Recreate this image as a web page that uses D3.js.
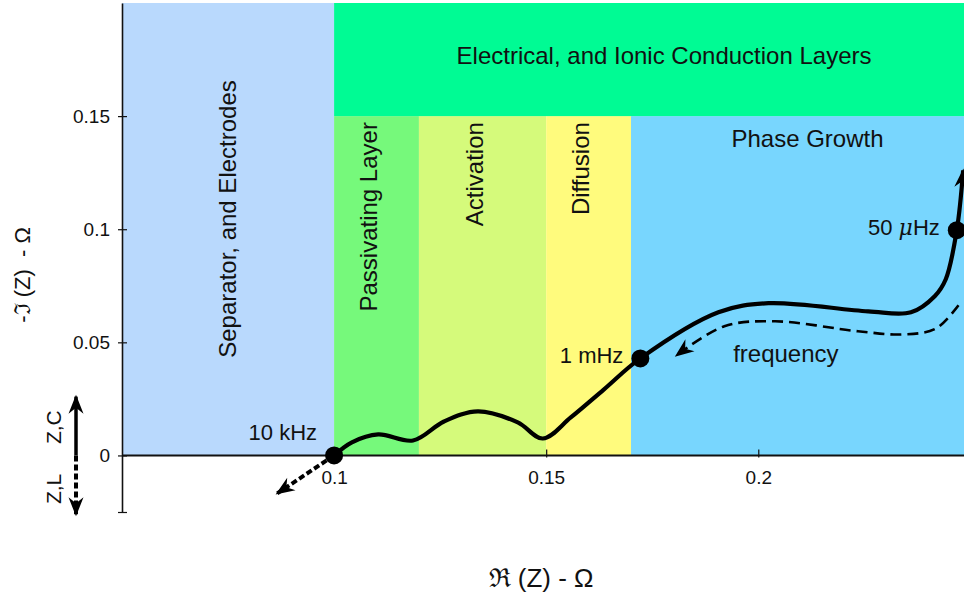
<!DOCTYPE html>
<html>
<head>
<meta charset="utf-8">
<script src="https://cdn.jsdelivr.net/npm/d3@7"></script>
<style>
  html, body { margin: 0; padding: 0; background: #ffffff; }
  svg { display: block; font-family: "Liberation Sans", Arial, Helvetica, sans-serif; }
</style>
</head>
<body>
<svg id="chart" width="964" height="597"></svg>
<script>
// Impedance regions (real-axis span and imaginary-axis span of each band)
const regionNames = ["Separator, and Electrodes", "Passivating Layer", "Activation", "Diffusion", "Phase Growth", "Electrical, and Ionic Conduction Layers"];
const regionRe0 = [0.05, 0.10, 0.12, 0.15, 0.17, 0.10];
const regionRe1 = [0.10, 0.12, 0.15, 0.17, 0.2485, 0.2485];
const regionIm0 = [0, 0, 0, 0, 0, 0.15];
const regionIm1 = [0.2, 0.15, 0.15, 0.15, 0.15, 0.2];
const regionColors = ["#b9d9fd", "#76f97b", "#d5fa7b", "#fffb7d", "#78d6fe", "#00fb94"];

// Nyquist trace: real and negative-imaginary impedance (ohm)
const traceRe = [0.100, 0.1042, 0.1104, 0.1186, 0.1259, 0.1339, 0.1433, 0.1492, 0.1558, 0.1635, 0.1722, 0.1906, 0.2024, 0.2259, 0.2360, 0.2416, 0.2442, 0.2468, 0.2483];
const traceIm = [0.000, 0.0058, 0.0093, 0.0066, 0.0150, 0.0195, 0.0146, 0.0075, 0.0168, 0.0290, 0.0429, 0.0633, 0.0673, 0.0637, 0.0633, 0.0704, 0.0779, 0.0996, 0.1260];

// Direction of decreasing frequency, drawn just below the trace
const freqRe = [0.2472, 0.2418, 0.2340, 0.2235, 0.2040, 0.1920, 0.1807];
const freqIm = [0.0664, 0.0560, 0.0535, 0.0549, 0.0593, 0.0571, 0.0442];

// High-frequency extrapolation from the 10 kHz point
const extrapRe = [0.100, 0.0866];
const extrapIm = [0.000, -0.0168];

// Labelled frequency markers
const markerLabels = ["10 kHz", "1 mHz", "50 μHz"];
const markerRe = [0.100, 0.1722, 0.2468];
const markerIm = [0.000, 0.0429, 0.0996];

// Axis ticks
const xTickValues = [0.1, 0.15, 0.2];
const xTickLabels = ["0.1", "0.15", "0.2"];
const yTickValues = [-0.025, 0, 0.05, 0.1, 0.15];
const yTickLabels = ["", "0", "0.05", "0.1", "0.15"];

const svg = d3.select("#chart");
const x = d3.scaleLinear().domain([0.05, 0.2485]).range([122, 964]);
const y = d3.scaleLinear().domain([-0.025, 0.2]).range([512, 3]);

// Arrowhead markers
const defs = svg.append("defs");
defs.append("marker")
  .attr("id", "head")
  .attr("viewBox", "-20 -10 24 20")
  .attr("refX", 0).attr("refY", 0)
  .attr("markerWidth", 24).attr("markerHeight", 20)
  .attr("markerUnits", "userSpaceOnUse")
  .attr("orient", "auto")
  .append("path")
  .attr("d", "M2,0 L-17,-7.5 L-11,0 L-17,7.5 Z")
  .attr("fill", "#000");

// Background bands
const regions = regionNames.map((n, i) => ({ name: n, x0: regionRe0[i], x1: regionRe1[i], y0: regionIm0[i], y1: regionIm1[i], color: regionColors[i] }));
svg.append("g").selectAll("rect").data(regions).join("rect")
  .attr("x", d => x(d.x0))
  .attr("y", d => y(d.y1))
  .attr("width", d => x(d.x1) - x(d.x0))
  .attr("height", d => y(d.y0) - y(d.y1))
  .attr("fill", d => d.color);

// Band titles
const bandText = svg.append("g").attr("fill", "#111").attr("font-size", 24);
bandText.append("text")
  .attr("transform", `translate(${x(0.075) + 8},${219}) rotate(-90)`)
  .attr("text-anchor", "middle")
  .text(regionNames[0]);
[1, 2, 3].forEach(i => {
  bandText.append("text")
    .attr("transform", `translate(${(x(regionRe0[i]) + x(regionRe1[i])) / 2},${y(0.15) + 6}) rotate(-90)`)
    .attr("text-anchor", "end")
    .text(regionNames[i]);
});
bandText.append("text")
  .attr("x", (x(0.17) + x(0.2485)) / 2 + 10)
  .attr("y", y(0.15) + 31)
  .attr("text-anchor", "middle")
  .text(regionNames[4]);
bandText.append("text")
  .attr("x", (x(0.1) + x(0.2485)) / 2 + 15)
  .attr("y", y(0.175) + 4)
  .attr("text-anchor", "middle")
  .text(regionNames[5]);

// Axes
const xAxis = svg.append("g")
  .attr("transform", `translate(0,${y(0)})`)
  .call(d3.axisBottom(x).tickValues(xTickValues).tickFormat((d, i) => xTickLabels[i]).tickSizeOuter(0).tickSize(0).tickPadding(15));
xAxis.select(".domain").attr("stroke", "#111").attr("stroke-width", 2).attr("d", `M${x(0.05)},0H964`);
xAxis.selectAll(".tick line").attr("y1", -6).attr("y2", 2).attr("stroke", "#111").attr("stroke-width", 1.2);
xAxis.selectAll(".tick text").attr("font-size", 19).attr("fill", "#111").attr("font-family", "Liberation Sans, Arial, sans-serif");

const yAxis = svg.append("g")
  .attr("transform", `translate(${x(0.05)},0)`)
  .call(d3.axisLeft(y).tickValues(yTickValues).tickFormat((d, i) => yTickLabels[i]).tickSizeOuter(0).tickSize(0).tickPadding(12));
yAxis.select(".domain").attr("stroke", "#111").attr("stroke-width", 1.6);
yAxis.selectAll(".tick line").attr("x1", -4).attr("x2", 5).attr("stroke", "#111").attr("stroke-width", 1.2);
yAxis.selectAll(".tick text").attr("font-size", 19).attr("fill", "#111").attr("font-family", "Liberation Sans, Arial, sans-serif");

// Axis titles
svg.append("text")
  .attr("x", 541).attr("y", 587)
  .attr("text-anchor", "middle")
  .attr("font-size", 26).attr("fill", "#111")
  .text("ℜ (Z) - Ω");
svg.append("text")
  .attr("transform", `translate(30,275) rotate(-90)`)
  .attr("text-anchor", "middle")
  .attr("font-size", 22).attr("fill", "#111")
  .style("white-space", "pre")
  .text("-ℑ (Z)  - Ω");

// Capacitive / inductive direction key
const keyX = 76;
svg.append("line")
  .attr("x1", keyX).attr("x2", keyX)
  .attr("y1", y(0)).attr("y2", y(0.026))
  .attr("stroke", "#000").attr("stroke-width", 3.5)
  .attr("marker-end", "url(#head)");
svg.append("line")
  .attr("x1", keyX).attr("x2", keyX)
  .attr("y1", y(0)).attr("y2", y(-0.026))
  .attr("stroke", "#000").attr("stroke-width", 4)
  .attr("stroke-dasharray", "6,3")
  .attr("marker-end", "url(#head)");
svg.append("text")
  .attr("transform", `translate(${keyX - 15},${y(0.0125)}) rotate(-90)`)
  .attr("text-anchor", "middle").attr("font-size", 21).attr("fill", "#111")
  .text("Z,C");
svg.append("text")
  .attr("transform", `translate(${keyX - 15},${y(-0.0148)}) rotate(-90)`)
  .attr("text-anchor", "middle").attr("font-size", 21).attr("fill", "#111")
  .text("Z,L");

// Extrapolated high-frequency tail
svg.append("path")
  .datum(extrapRe.map((r, i) => [r, extrapIm[i]]))
  .attr("d", d3.line().x(d => x(d[0])).y(d => y(d[1])))
  .attr("fill", "none").attr("stroke", "#000").attr("stroke-width", 4)
  .attr("stroke-dasharray", "6,3")
  .attr("marker-end", "url(#head)");

// Frequency direction guide
svg.append("path")
  .datum(freqRe.map((r, i) => [r, freqIm[i]]))
  .attr("d", d3.line().x(d => x(d[0])).y(d => y(d[1])).curve(d3.curveCatmullRom.alpha(0.5)))
  .attr("fill", "none").attr("stroke", "#000").attr("stroke-width", 2.6)
  .attr("stroke-dasharray", "11,6")
  .attr("marker-end", "url(#head)");
svg.append("text")
  .attr("x", x(0.2065)).attr("y", y(0.0413))
  .attr("text-anchor", "middle").attr("font-size", 24).attr("fill", "#111")
  .text("frequency");

// Nyquist trace
svg.append("path")
  .datum(traceRe.map((r, i) => [r, traceIm[i]]))
  .attr("d", d3.line().x(d => x(d[0])).y(d => y(d[1])).curve(d3.curveCatmullRom.alpha(0.5)))
  .attr("fill", "none").attr("stroke", "#000").attr("stroke-width", 4.2)
  .attr("stroke-linejoin", "round")
  .attr("marker-end", "url(#head)");

// Frequency markers
const markers = markerLabels.map((l, i) => ({ label: l, re: markerRe[i], im: markerIm[i] }));
svg.append("g").selectAll("circle").data(markers).join("circle")
  .attr("cx", d => x(d.re)).attr("cy", d => y(d.im)).attr("r", 9).attr("fill", "#000");
const mLabels = svg.append("g").selectAll("text").data(markers).join("text")
  .attr("x", d => x(d.re) - 17).attr("y", d => y(d.im) - 3 - (d.im === 0 ? 20 : 0))
  .attr("dy", "0.35em")
  .attr("text-anchor", "end").attr("font-size", 22).attr("fill", "#111");
mLabels.each(function(d) {
  const t = d3.select(this);
  const m = d.label.match(/^(\S+ )(μ)(.*)$/);
  if (m) {
    t.append("tspan").text(m[1]);
    t.append("tspan").attr("font-style", "italic").attr("font-family", "DejaVu Serif, serif").text(m[2]);
    t.append("tspan").text(m[3]);
  } else {
    t.text(d.label);
  }
});
</script>
</body>
</html>
